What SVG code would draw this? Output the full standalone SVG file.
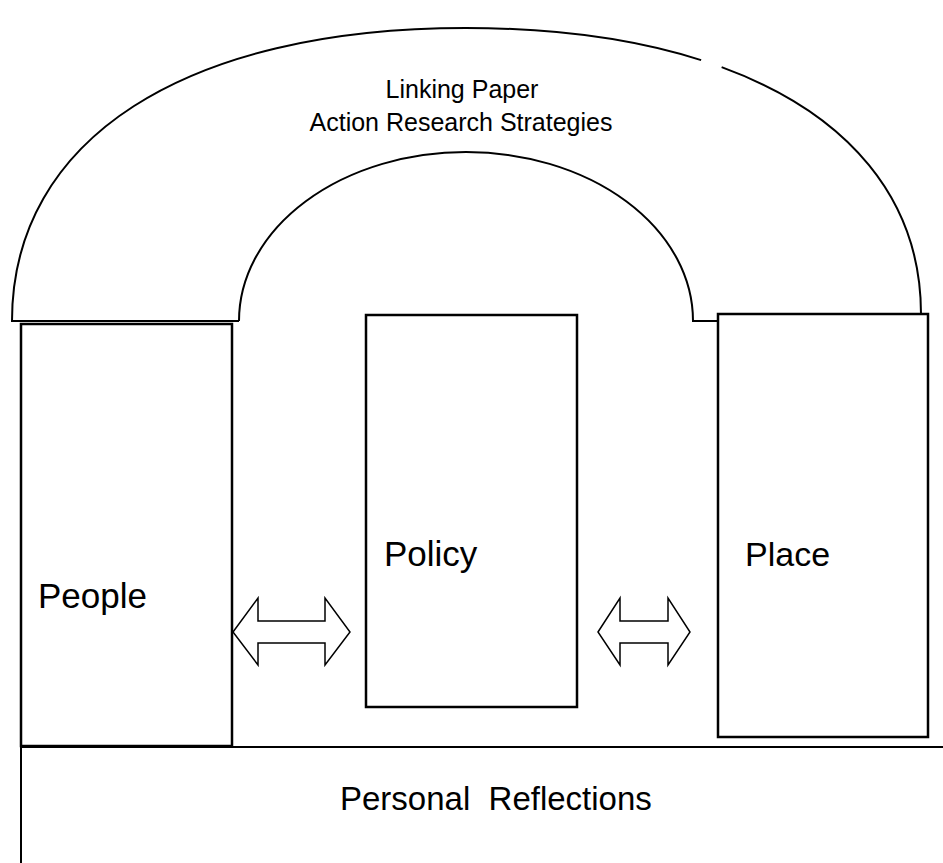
<svg xmlns="http://www.w3.org/2000/svg" width="943" height="863" viewBox="0 0 943 863">
<style>
.ln{fill:none;stroke:#000;stroke-width:2}
.box{fill:#fff;stroke:#000;stroke-width:2.5}
.arr{fill:#fff;stroke:#000;stroke-width:1.5;stroke-linejoin:miter}
.t{font-family:"Liberation Sans",Arial,sans-serif;fill:#000}
</style>
<rect width="943" height="863" fill="#fff"/>
<g id="arch">
<path class="ln" d="M239,321 H12 C12,139 185,28 466,28 C556.24,28 635.3,39.16 701.12,60.16"/>
<path class="ln" d="M721.64,67.18 C848.8,113.7 921,199.66 921,314"/>
<path class="ln" d="M239,321 A227,169 0 0 1 693,321 H718"/>
<text class="t" x="462" y="98" font-size="25" text-anchor="middle">Linking Paper</text>
<text class="t" x="461" y="131" font-size="25" text-anchor="middle">Action Research Strategies</text>
</g>
<g id="people">
<rect class="box" x="21" y="324" width="211" height="422"/>
<text class="t" x="38" y="608" font-size="35">People</text>
</g>
<g id="policy">
<rect class="box" x="366" y="315" width="211" height="392"/>
<text class="t" x="384" y="566" font-size="35">Policy</text>
</g>
<g id="place">
<rect class="box" x="718" y="314" width="210" height="423"/>
<text class="t" x="745" y="566" font-size="34">Place</text>
</g>
<g id="reflections">
<path class="ln" d="M21,747 H943 M21,746 V863" stroke-width="3"/>
<text class="t" x="340" y="810" font-size="33" xml:space="preserve">Personal  Reflections</text>
</g>
<g id="connectors">
<polygon class="arr" points="233,632 258,598 258,621 325,621 325,598 350,632 325,665 325,643 258,643 258,665"/>
<polygon class="arr" points="598,632 620,598 620,621 668,621 668,598 690,632 668,665 668,643 620,643 620,665"/>
</g>
</svg>
